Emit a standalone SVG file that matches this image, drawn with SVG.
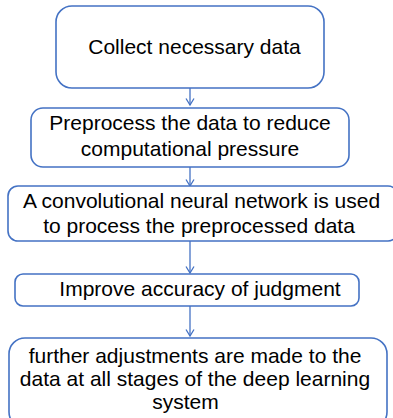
<svg xmlns="http://www.w3.org/2000/svg" width="393" height="418" viewBox="0 0 393 418">
<defs>
<style>
.box{fill:#fff;stroke:#4472C4;stroke-width:1.6}
.t{font-family:"Liberation Sans",Arial,sans-serif;font-size:21px;fill:#000;text-anchor:middle}
.c{stroke:#4472C4;stroke-width:1.3;fill:none}
</style>
<marker id="ah" markerWidth="10" markerHeight="10" refX="8.5" refY="5" orient="auto" markerUnits="userSpaceOnUse" viewBox="0 0 10 10">
<path d="M2,1 L8.5,5 L2,9" fill="none" stroke="#4472C4" stroke-width="1.3"/>
</marker>
</defs>
<rect width="393" height="418" fill="#fff"/>
<g id="connectors">
<line class="c" x1="190" y1="88" x2="190" y2="105" marker-end="url(#ah)"/>
<line class="c" x1="190" y1="167" x2="190" y2="186" marker-end="url(#ah)"/>
<line class="c" x1="190" y1="241" x2="190" y2="273" marker-end="url(#ah)"/>
<line class="c" x1="190" y1="306" x2="190" y2="336" marker-end="url(#ah)"/>
</g>
<g id="n1"><rect class="box" x="56" y="6" width="268" height="82" rx="16"/><text class="t" x="194.5" y="54">Collect necessary data</text></g>
<g id="n2"><rect class="box" x="31" y="108" width="318" height="59" rx="12"/><text class="t" x="190" y="130">Preprocess the data to reduce</text><text class="t" x="190" y="156">computational pressure</text></g>
<g id="n3"><rect class="box" x="8" y="186" width="390" height="55" rx="10"/><text class="t" x="201.5" y="208">A convolutional neural network is used</text><text class="t" x="199" y="233">to process the preprocessed data</text></g>
<g id="n4"><rect class="box" x="15" y="274" width="344" height="32" rx="8"/><text class="t" x="200" y="296">Improve accuracy of judgment</text></g>
<g id="n5"><rect class="box" x="9" y="338" width="378" height="90" rx="16"/><text class="t" x="195" y="363">further adjustments are made to the</text><text class="t" x="195" y="386">data at all stages of the deep learning</text><text class="t" x="185.5" y="409">system</text></g>
</svg>
